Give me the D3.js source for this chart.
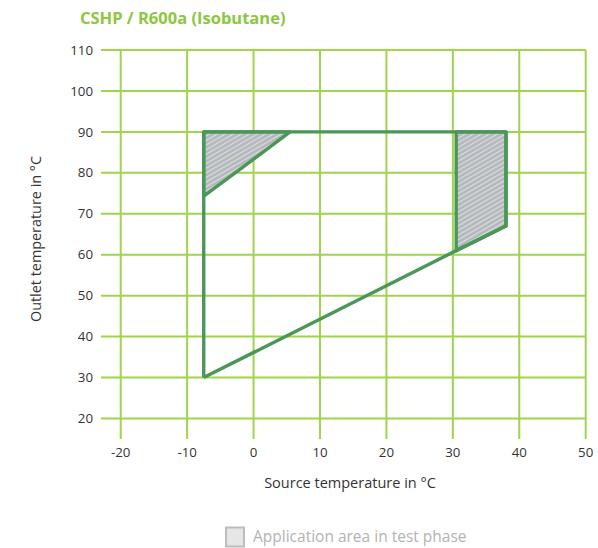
<!DOCTYPE html>
<html><head><meta charset="utf-8">
<script src="https://cdn.jsdelivr.net/npm/d3@7/dist/d3.min.js"></script>
<style>body{margin:0;background:#fff;}svg{display:block;font-family:"Open Sans","Lato",sans-serif;}</style>
</head><body>
<script>
const title = "CSHP / R600a (Isobutane)";
const xTicks = [-20,-10,0,10,20,30,40,50];
const yTicks = [20,30,40,50,60,70,80,90,100,110];
const xLabel = "Source temperature in °C";
const yLabel = "Outlet temperature in °C";
const legendLabel = "Application area in test phase";
// operating envelope (source °C, outlet °C)
const envelope = [[-7.5,30],[-7.5,90],[38,90],[38,67],[30.5,61],[-7.5,30]];
// test-phase areas
const testLeft = [[-7.5,90],[5.5,90],[-7.5,74.3]];
const testRight = [[30.5,90],[38,90],[38,67],[30.5,61]];

const W=598,H=548;
const svg=d3.select("body").append("svg").attr("width",W).attr("height",H);
const x=d3.scaleLinear().domain([-20,50]).range([120.7,585.7]);
const y=d3.scaleLinear().domain([20,110]).range([418.5,50]);

const defs=svg.append("defs");
const pat=defs.append("pattern").attr("id","hatch").attr("patternUnits","userSpaceOnUse")
  .attr("width",4).attr("height",4).attr("patternTransform","rotate(-30)");
pat.append("rect").attr("width",4).attr("height",4).attr("fill","#b3b7bb");
pat.append("rect").attr("width",4).attr("height",1.3).attr("fill","#d9dbdd");

const grid="#9fd44c";
svg.append("g").selectAll("line").data(yTicks).join("line")
  .attr("x1",101).attr("x2",x(50)).attr("y1",d=>y(d)).attr("y2",d=>y(d))
  .attr("stroke",grid).attr("stroke-width",2);
svg.append("g").selectAll("line").data(xTicks).join("line")
  .attr("x1",d=>x(d)).attr("x2",d=>x(d)).attr("y1",y(110)).attr("y2",439)
  .attr("stroke",grid).attr("stroke-width",2);

svg.append("g").selectAll("text").data(yTicks).join("text")
  .attr("x",93).attr("y",d=>y(d)).attr("dy","0.35em").attr("text-anchor","end")
  .attr("font-size",13.3).attr("fill","#333").text(d=>d);
svg.append("g").selectAll("text").data(xTicks).join("text")
  .attr("x",d=>x(d)).attr("y",457).attr("text-anchor","middle")
  .attr("font-size",13.3).attr("fill","#333").text(d=>d);

const line=d3.line().x(d=>x(d[0])).y(d=>y(d[1]));
const green="#4a9758";
svg.append("path").attr("d",line(testLeft)+"Z").attr("fill","url(#hatch)");
svg.append("path").attr("d",line(testRight)+"Z").attr("fill","url(#hatch)");
[testLeft,testRight].forEach(p=>svg.append("path").attr("d",line(p)+"Z").attr("fill","none")
  .attr("stroke",green).attr("stroke-width",3.4).attr("stroke-linejoin","round"));
svg.append("path").attr("d",line(envelope)).attr("fill","none").attr("stroke",green)
  .attr("stroke-width",3.4).attr("stroke-linejoin","round");

svg.append("text").attr("x",80).attr("y",24).attr("font-size",16.5).attr("font-weight","bold")
  .attr("fill","#8dc63f").text(title);
svg.append("text").attr("x",350).attr("y",488).attr("text-anchor","middle")
  .attr("font-size",14.5).attr("fill","#333").text(xLabel);
svg.append("text").attr("transform","translate(41,239) rotate(-90)").attr("text-anchor","middle")
  .attr("font-size",14.4).attr("fill","#333").text(yLabel);

svg.append("rect").attr("x",226).attr("y",527.5).attr("width",18).attr("height",19)
  .attr("fill","#e6e6e6").attr("stroke","#bdbdbd").attr("stroke-width",2);
svg.append("text").attr("x",253).attr("y",542).attr("font-size",15.5).attr("fill","#b3b3b3").text(legendLabel);
</script>
</body></html>
